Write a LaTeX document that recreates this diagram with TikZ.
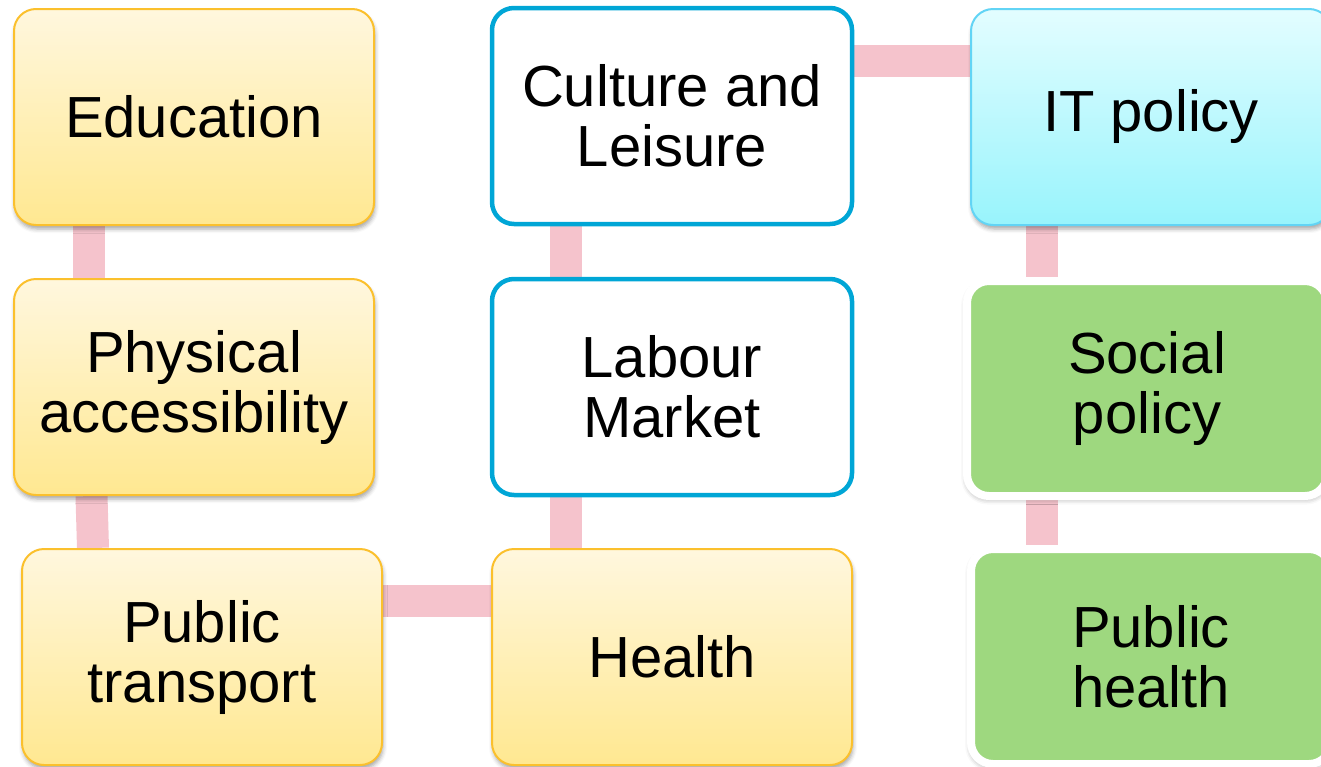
\documentclass[tikz,border=0pt]{standalone}
\usepackage{fontspec}
\setmainfont{Liberation Sans}
\usetikzlibrary{shadows.blur,backgrounds}
\definecolor{pinkc}{HTML}{F5C3CC}
\definecolor{ytop}{HTML}{FFF7DE}
\definecolor{ybot}{HTML}{FFE891}
\definecolor{yline}{HTML}{FBC02D}
\definecolor{bline}{HTML}{00A6D6}
\definecolor{ctop}{HTML}{E3FDFF}
\definecolor{cbot}{HTML}{98F4FC}
\definecolor{cline}{HTML}{62D4F5}
\definecolor{gfill}{HTML}{9ED87F}
\tikzset{
  box/.style={rectangle, rounded corners=22pt, minimum width=360pt, minimum height=216pt,
    align=center, inner sep=0pt, font=\fontsize{58}{60}\selectfont},
  yelbox/.style={box, draw=yline, line width=2pt, top color=ytop, bottom color=ybot,
    blur shadow={shadow xshift=1pt, shadow yshift=-4pt, shadow blur radius=4pt, shadow opacity=35}},
  bluebox/.style={box, draw=bline, line width=4.5pt, fill=white},
  cyanbox/.style={box, draw=cline, line width=2pt, top color=ctop, bottom color=cbot,
    blur shadow={shadow xshift=1pt, shadow yshift=-4pt, shadow blur radius=4pt, shadow opacity=35}},
  greenbox/.style={box, minimum height=215pt, draw=white, line width=8pt, fill=gfill,
    blur shadow={shadow xshift=0pt, shadow yshift=-3pt, shadow scale=1.005, shadow blur radius=5pt, shadow opacity=35}},
  link/.style={draw=pinkc, line width=32pt}
}
\begin{document}
\begin{tikzpicture}[x=1pt, y=-1pt]
\useasboundingbox (0,0) rectangle (1321,766);
\node[yelbox] (edu) at (194,117) {Education};
\node[yelbox] (phys) at (194,387) {Physical\\accessibility};
\node[yelbox] (pt) at (202,657) {Public\\transport};
\node[yelbox] (health) at (672,657) {Health};
\node[bluebox] (culture) at (672,116) {Culture and\\Leisure};
\node[bluebox] (labour) at (672,387) {Labour\\Market};
\node[cyanbox] (it) at (1151,117) {IT policy};
\node[greenbox] (social) at (1147,388.5) {Social\\policy};
\node[greenbox] (ph) at (1151,656.5) {Public\\health};
\begin{scope}[on background layer]
\draw[link] ([xshift=-105.5pt]edu.south) -- ([xshift=-105.5pt]phys.north);
\draw[link] ([xshift=-102.5pt]phys.south) -- ([xshift=-109pt]pt.north);
\draw[link] ([yshift=56pt]pt.east) -- ([yshift=56pt]health.west);
\draw[link] ([xshift=-106.5pt]health.north) -- ([xshift=-106.5pt]labour.south);
\draw[link] ([xshift=-106.5pt]labour.north) -- ([xshift=-106.5pt]culture.south);
\draw[link] ([yshift=55pt]culture.east) -- ([yshift=56pt]it.west);
\draw[link] ([xshift=-109.5pt]it.south) -- ([xshift=-105.5pt]social.north);
\draw[link] ([xshift=-105.5pt]social.south) -- ([xshift=-109.5pt]ph.north);
\end{scope}
\end{tikzpicture}
\end{document}
